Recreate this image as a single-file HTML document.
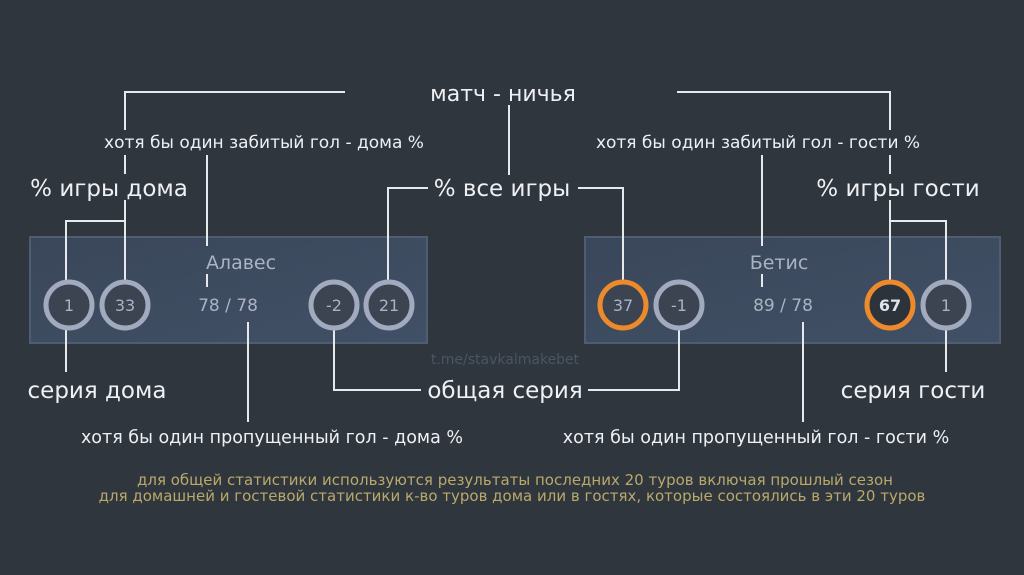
<!DOCTYPE html>
<html><head><meta charset="utf-8"><style>
body{margin:0;width:1024px;height:575px;background:#303840;overflow:hidden;font-family:"DejaVu Sans","Liberation Sans",sans-serif;}
svg{position:absolute;left:0;top:0}
</style></head><body>
<svg width="1024" height="575" viewBox="0 0 1024 575">
<defs><linearGradient id="p" x1="0" y1="0" x2="1" y2="1"><stop offset="0" stop-color="#3a475a"/><stop offset="1" stop-color="#415066"/></linearGradient></defs>
<rect width="1024" height="575" fill="#2f363e"/>
<rect x="30" y="237" width="397" height="106" fill="url(#p)" stroke="#4e5d72" stroke-width="2"/>
<rect x="585" y="237" width="415" height="106" fill="url(#p)" stroke="#4e5d72" stroke-width="2"/>
<g stroke="#e6e9ec" stroke-width="2" fill="none">
<polyline points="345,92 125,92 125,130"/><line x1="125" y1="155" x2="125" y2="174"/><line x1="125" y1="200" x2="125" y2="280"/>
<polyline points="677,92 890,92 890,130"/><line x1="890" y1="155" x2="890" y2="174"/><line x1="890" y1="200" x2="890" y2="280"/>
<line x1="509" y1="105" x2="509" y2="175"/>
<polyline points="428,188 388,188 388,280"/>
<polyline points="578,188 623,188 623,280"/>
<polyline points="125,221 66,221 66,280"/>
<polyline points="890,221 946,221 946,280"/>
<line x1="207" y1="155" x2="207" y2="246"/><line x1="207" y1="274" x2="207" y2="287"/>
<line x1="762" y1="155" x2="762" y2="246"/><line x1="762" y1="274" x2="762" y2="287"/>
<line x1="66" y1="330" x2="66" y2="372"/>
<line x1="946" y1="330" x2="946" y2="372"/>
<polyline points="334,330 334,390 421,390"/>
<polyline points="679,330 679,390 588,390"/>
<line x1="248" y1="322" x2="248" y2="422"/>
<line x1="803" y1="322" x2="803" y2="422"/>
</g>
<g stroke-width="5">
<circle cx="69" cy="305" r="23" fill="#3b4450" stroke="#a2aac0"/>
<circle cx="125" cy="305" r="23" fill="#3b4450" stroke="#a2aac0"/>
<circle cx="334" cy="305" r="23" fill="#3b4450" stroke="#a2aac0"/>
<circle cx="389" cy="305" r="23" fill="#3b4450" stroke="#a2aac0"/>
<circle cx="623" cy="305" r="23" fill="#3b4450" stroke="#ec8a2c"/>
<circle cx="679" cy="305" r="23" fill="#3b4450" stroke="#a2aac0"/>
<circle cx="890" cy="305" r="23" fill="#2c333b" stroke="#ec8a2c"/>
<circle cx="946" cy="305" r="23" fill="#3b4450" stroke="#a2aac0"/>
</g>
<g font-family="DejaVu Sans,Liberation Sans,sans-serif" text-anchor="middle" fill="#aab2c4" font-size="16">
<text x="69" y="311">1</text><text x="125" y="311">33</text><text x="334" y="311">-2</text><text x="389" y="311">21</text>
<text x="623" y="311">37</text><text x="679" y="311">-1</text><text x="890" y="311" fill="#dfe3ea" font-weight="bold">67</text><text x="946" y="311">1</text>
<text x="228" y="311" font-size="17">78 / 78</text><text x="783" y="311" font-size="17">89 / 78</text>
<text x="241" y="269" font-size="19">Алавес</text><text x="779" y="269" font-size="19">Бетис</text>
<text x="505" y="364" font-size="14" fill="#4a5562">t.me/stavkalmakebet</text>
</g>
<g font-family="DejaVu Sans,Liberation Sans,sans-serif" text-anchor="middle" fill="#eef0f3">
<text x="503" y="101" font-size="22">матч - ничья</text>
<text x="264" y="148" font-size="17">хотя бы один забитый гол - дома %</text>
<text x="758" y="148" font-size="17">хотя бы один забитый гол - гости %</text>
<text x="109" y="196" font-size="23">% игры дома</text>
<text x="502" y="196" font-size="23">% все игры</text>
<text x="898" y="196" font-size="23">% игры гости</text>
<text x="97" y="398" font-size="23">серия дома</text>
<text x="505" y="398" font-size="23">общая серия</text>
<text x="913" y="398" font-size="23">серия гости</text>
<text x="272" y="443" font-size="17.5">хотя бы один пропущенный гол - дома %</text>
<text x="756" y="443" font-size="17.5">хотя бы один пропущенный гол - гости %</text>
</g>
<g font-family="DejaVu Sans,Liberation Sans,sans-serif" text-anchor="middle" fill="#b9a96a" font-size="15">
<text x="515" y="485">для общей статистики используются результаты последних 20 туров включая прошлый сезон</text>
<text x="512" y="501">для домашней и гостевой статистики к-во  туров дома или в гостях, которые состоялись в эти 20 туров</text>
</g>
</svg>
</body></html>
